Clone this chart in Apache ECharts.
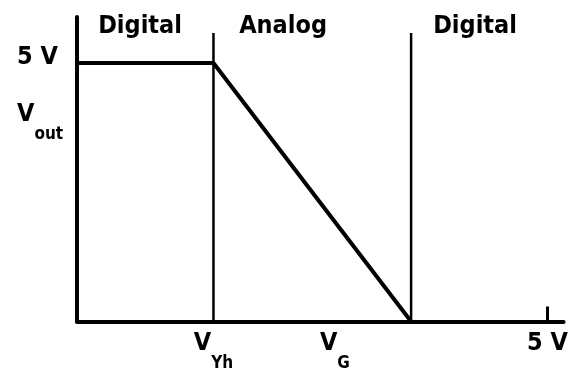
<!DOCTYPE html>
<html>
<head>
<meta charset="utf-8">
<script src="https://cdn.jsdelivr.net/npm/echarts@6/dist/echarts.min.js"></script>
<style>
  html, body { margin: 0; padding: 0; background: #fff; }
  #chart { width: 571px; height: 372px; }
</style>
</head>
<body>
<div id="chart"></div>
<script>
// transfer curve: Vout vs input
const voutCurve = [[0, 5], [1.45, 5], [3.55, 0]];
const vYh = 1.45;
const vBoundary = 3.55;
const dividerTop = 5.58;

// region labels above the plot
const regionNames = ['Digital', 'Analog', 'Digital'];
const regionX = [0.67, 2.19, 4.23];
const regionY = 5.71;

// axis labels
const xTickValues = [1.45, 2.74, 5];
const xTickLabels = ['{m|V}{s|Yh}', '{m|V}{s|G}', '{m|5 V}'];
const yTickValues = [5, 3.84];
const yTickLabels = ['{t|5 V}', '{m|V}{s|out}'];

const FONT = '"Liberation Sans Narrow", "DejaVu Sans Condensed", "Arial Narrow", sans-serif';

// main and subscript tokens get the same box height so the padding sets the offset
const rich = {
  m: { fontFamily: FONT, fontSize: 25, fontWeight: 'bold', color: '#000', lineHeight: 26, padding: [0, 0, 16, 0] },
  s: { fontFamily: FONT, fontSize: 17, fontWeight: 'bold', color: '#000', lineHeight: 18, padding: [24, 0, 0, 0] },
  t: { fontFamily: FONT, fontSize: 25, fontWeight: 'bold', color: '#000', lineHeight: 26, padding: [0, 0, 12, 0] }
};

let myChart = echarts.init(document.getElementById('chart'));
myChart.setOption({
  animation: false,
  grid: { left: 77, right: 7, top: 17, bottom: 50 },
  xAxis: {
    type: 'value',
    min: 0,
    max: 5.17,
    splitLine: { show: false },
    axisLine: { lineStyle: { color: '#000', width: 4 } },
    axisTick: { customValues: [5], inside: true, length: 15, lineStyle: { color: '#000', width: 3 } },
    axisLabel: {
      customValues: xTickValues,
      margin: 17,
      formatter: function (v) { return xTickLabels[xTickValues.indexOf(v)]; },
      rich: rich
    }
  },
  yAxis: {
    type: 'value',
    min: 0,
    max: 5.89,
    splitLine: { show: false },
    axisLine: { show: true, lineStyle: { color: '#000', width: 4 } },
    axisTick: { show: false },
    axisLabel: {
      customValues: yTickValues,
      align: 'left',
      margin: 60,
      formatter: function (v) { return yTickLabels[yTickValues.indexOf(v)]; },
      rich: rich
    }
  },
  series: [
    {
      name: 'Vout',
      type: 'line',
      data: voutCurve,
      showSymbol: false,
      clip: false,
      lineStyle: { color: '#000', width: 4 }
    },
    {
      type: 'line',
      data: [[vYh, 0], [vYh, dividerTop]],
      showSymbol: false,
      lineStyle: { color: '#000', width: 2.5 }
    },
    {
      type: 'line',
      data: [[vBoundary, 0], [vBoundary, dividerTop]],
      showSymbol: false,
      lineStyle: { color: '#000', width: 2.5 }
    },
    {
      type: 'scatter',
      symbolSize: 0,
      itemStyle: { opacity: 1 },
      data: regionNames.map(function (n, i) { return { name: n, value: [regionX[i], regionY] }; }),
      label: {
        show: true,
        position: 'inside',
        formatter: '{b}',
        fontFamily: FONT,
        fontSize: 25,
        fontWeight: 'bold',
        color: '#000'
      }
    }
  ]
});
</script>
</body>
</html>
